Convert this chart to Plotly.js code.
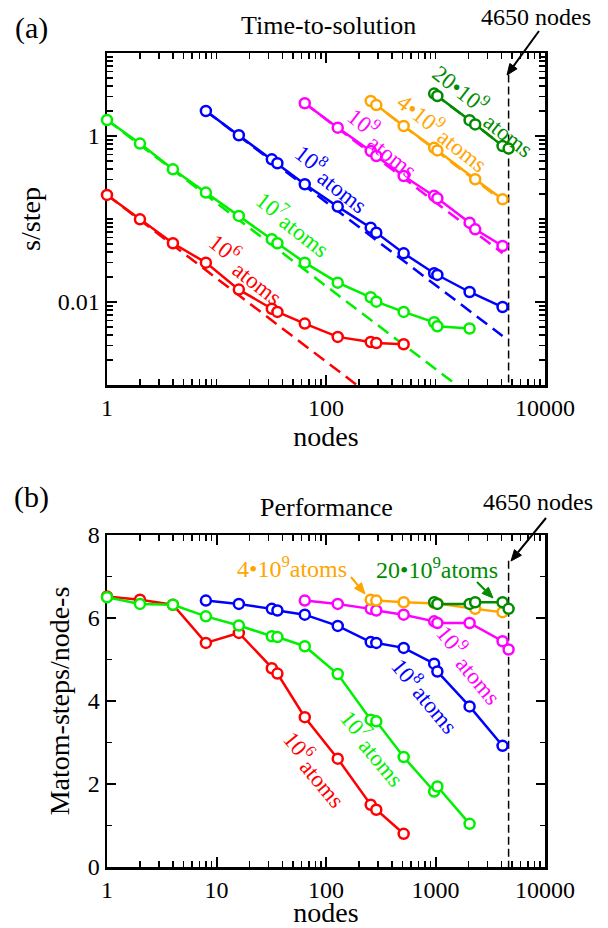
<!DOCTYPE html>
<html><head><meta charset="utf-8">
<script src="https://cdn.plot.ly/plotly-3.0.1.min.js"></script>
<style>html,body{margin:0;padding:0;background:#fff}#chart{width:608px;height:928px}</style>
</head><body><div id="chart"></div>
<script>
// ---------- data (nodes, values) ----------
const nodesRed     = [1,2,4,8,16,32,36,64,128,256,288,512];
const nodesGreen   = [1,2,4,8,16,32,36,64,128,256,288,512,972,1040,2048];
const nodesBlue    = [8,16,32,36,64,128,256,288,512,972,1040,2048,4096];
const nodesMagTop  = [64,128,256,288,512,972,1040,2048,2304,4096];
const nodesMagBot  = [64,128,256,288,512,972,1040,2048,4096,4650];
const nodesOrange  = [256,288,512,972,1040,2304,4096];
const nodesDkGreen = [972,1040,2048,2304,4096,4650];

// (a) time-to-solution, s/step
const tRed     = [0.195,0.099,0.051,0.0298,0.0141,0.0083,0.0076,0.0055,0.0038,0.0033,0.0032,0.0031];
const tGreen   = [1.56,0.81,0.397,0.208,0.109,0.057,0.051,0.0298,0.0171,0.0114,0.0101,0.0076,0.0057,0.0051,0.0048];
const tBlue    = [2.0,1.02,0.524,0.469,0.262,0.141,0.0787,0.0685,0.0386,0.0222,0.0212,0.0132,0.0087];
const tMagenta = [2.48,1.26,0.659,0.574,0.330,0.19,0.178,0.0904,0.0751,0.0473];
const tOrange  = [2.64,2.36,1.32,0.72,0.67,0.301,0.173];
const tDkGreen = [3.24,3.03,1.55,1.38,0.758,0.705];

// ideal-scaling reference lines (end points)
const idealRedX = [1,191],      idealRedY = [0.195,0.001];
const idealGreenX = [1,1560],   idealGreenY = [1.56,0.001];
const idealBlueX = [8,4096],    idealBlueY = [2.0,0.0039];
const idealMagX = [64,4096],    idealMagY = [2.48,0.0388];
const idealOrX = [256,4096],    idealOrY = [2.64,0.165];
const idealDgX = [972,4650],    idealDgY = [3.24,0.677];

// (b) performance, Matom-steps/node-s
const pRed     = [6.52,6.44,6.32,5.40,5.64,4.79,4.66,3.61,2.61,1.50,1.38,0.80];
const pGreen   = [6.50,6.34,6.32,6.04,5.82,5.56,5.54,5.32,4.65,3.55,3.51,2.65,1.82,1.94,1.04];
const pBlue    = [6.42,6.34,6.22,6.18,6.08,5.81,5.42,5.40,5.28,4.90,4.71,3.87,2.92];
const pMagenta = [6.42,6.34,6.22,6.18,6.08,5.92,5.88,5.88,5.44,5.24];
const pOrange  = [6.44,6.42,6.38,6.36,6.35,6.22,6.14];
const pDkGreen = [6.38,6.34,6.34,6.38,6.38,6.22];

// 4650-node marker line
const limitNodes = [4650,4650];
const limitTopY  = [5.5,0.001];
const limitBotY  = [7.38,0];

// tick labels
const xTopTickVals = [1,100,10000],  xTopTickText = ['1','100','10000'];
const yTopTickVals = [0.01,1],       yTopTickText = ['0.01','1'];
const xBotTickVals = [1,10,100,1000,10000], xBotTickText = ['1','10','100','1000','10000'];
const yBotTickVals = [0,2,4,6,8],    yBotTickText = ['0','2','4','6','8'];

// ---------- styling ----------
const COL = {red:'#ff0000', green:'#00f000', blue:'#0000ff', magenta:'#ff00ff', orange:'#ffa500', dkgreen:'#008b00'};
const FONT = 'Liberation Serif';

function minorLog(decades, skip){
  const v=[];
  decades.forEach(d=>{ for(let k=1;k<=9;k++){ const x=+(d*k).toPrecision(6); if(!skip.includes(x)) v.push(x);} });
  return v;
}
const xTopMinor = minorLog([1,10,100,1000],[1,100]);
const yTopMinor = minorLog([0.001,0.01,0.1,1],[0.001,0.01,1]).concat([10]);
const xBotMinor = minorLog([1,10,100,1000],[1,10,100,1000]);

function series(x,y,color,xa,ya){
  return {x:x,y:y,xaxis:xa,yaxis:ya,type:'scatter',mode:'lines+markers',cliponaxis:false,
    line:{color:color,width:2.5},
    marker:{symbol:'circle',size:10,color:'white',line:{color:color,width:2.5}},hoverinfo:'skip'};
}
function ideal(x,y,color){
  return {x:x,y:y,xaxis:'x2',yaxis:'y2',type:'scatter',mode:'lines',
    line:{color:color,width:2.5,dash:'13px,7px'},hoverinfo:'skip'};
}
function vline(x,y,xa,ya){
  return {x:x,y:y,xaxis:xa,yaxis:ya,type:'scatter',mode:'lines',
    line:{color:'black',width:1.5,dash:'8px,4px'},hoverinfo:'skip'};
}

const data = [
  ideal(idealRedX,idealRedY,COL.red),
  ideal(idealGreenX,idealGreenY,COL.green),
  ideal(idealBlueX,idealBlueY,COL.blue),
  ideal(idealMagX,idealMagY,COL.magenta),
  ideal(idealOrX,idealOrY,COL.orange),
  ideal(idealDgX,idealDgY,COL.dkgreen),
  vline(limitNodes,limitTopY,'x2','y2'),
  vline(limitNodes,limitBotY,'x','y'),
  series(nodesRed,tRed,COL.red,'x2','y2'),
  series(nodesGreen,tGreen,COL.green,'x2','y2'),
  series(nodesBlue,tBlue,COL.blue,'x2','y2'),
  series(nodesMagTop,tMagenta,COL.magenta,'x2','y2'),
  series(nodesOrange,tOrange,COL.orange,'x2','y2'),
  series(nodesDkGreen,tDkGreen,COL.dkgreen,'x2','y2'),
  series(nodesRed,pRed,COL.red,'x','y'),
  series(nodesGreen,pGreen,COL.green,'x','y'),
  series(nodesBlue,pBlue,COL.blue,'x','y'),
  series(nodesMagBot,pMagenta,COL.magenta,'x','y'),
  series(nodesOrange,pOrange,COL.orange,'x','y'),
  series(nodesDkGreen,pDkGreen,COL.dkgreen,'x','y')
];

function axis(extra){
  return Object.assign({showline:true,linecolor:'black',linewidth:2.5,mirror:'ticks',
    ticks:'inside',ticklen:10,tickwidth:2,tickcolor:'black',showgrid:false,zeroline:false,
    layer:'below traces',tickfont:{size:24,color:'black',family:FONT},tickmode:'array'},extra);
}
function minor(vals,len){
  return {ticks:'inside',ticklen:len,tickwidth:1.5,tickcolor:'black',showgrid:false,tickmode:'array',tickvals:vals};
}

// pixel -> paper helpers (plot area 107..545 x 53..867)
const X = px => (px-107)/438;
const Y = py => (867-py)/814;

function txt(s,px,py,size,color,angle){
  return {text:s,x:X(px),y:Y(py),xref:'paper',yref:'paper',showarrow:false,
    xanchor:'center',yanchor:'middle',textangle:angle||0,
    font:{family:FONT,size:size,color:color||'black'}};
}
// arrow drawn as shapes: a line plus a filled head
function arrowShapes(x0,y0,x1,y1,color){
  const dx=x1-x0, dy=y1-y0, L=Math.hypot(dx,dy), ux=dx/L, uy=dy/L;
  const hl=11, hw=4.5;
  const bx=x1-ux*hl, by=y1-uy*hl;
  const p1=[bx-uy*hw, by+ux*hw], p2=[bx+uy*hw, by-ux*hw];
  return [
    {type:'line',xref:'paper',yref:'paper',x0:X(x0),y0:Y(y0),x1:X(bx),y1:Y(by),line:{color:color,width:2}},
    {type:'path',xref:'paper',yref:'paper',fillcolor:color,line:{color:color,width:1},
     path:`M ${X(x1)} ${Y(y1)} L ${X(p1[0])} ${Y(p1[1])} L ${X(p2[0])} ${Y(p2[1])} Z`}
  ];
}

const A1=38, A2=50;
const annotations = [
  txt('(a)',31,28,30),
  txt('Time-to-solution',328,25,26),
  txt('4650 nodes',536,17,24),
  txt('(b)',31,497,30),
  txt('Performance',326,507,26),
  txt('4650 nodes',538,502,24),
  // (a) series labels
  txt('10<sup>6</sup>',225,247,23,COL.red,A1),
  txt('atoms',257,283,23,COL.red,A1),
  txt('10<sup>7</sup>',272,205,23,COL.green,A1),
  txt('atoms',304,235,23,COL.green,A1),
  txt('10<sup>8</sup>',311,158,23,COL.blue,A1),
  txt('atoms',342,191,23,COL.blue,A1),
  txt('10<sup>9</sup>',363,122,23,COL.magenta,A1),
  txt('atoms',392,156,23,COL.magenta,A1),
  txt('4•10<sup>9</sup>',421,113,23,COL.orange,A1),
  txt('atoms',462,150,23,COL.orange,A1),
  txt('20•10<sup>9</sup>',461,88,23,COL.dkgreen,A1),
  txt('atoms',508,135,23,COL.dkgreen,A1),
  // (b) series labels
  txt('10<sup>6</sup>',299,745,23,COL.red,A2),
  txt('atoms',322,783,23,COL.red,A2),
  txt('10<sup>7</sup>',356,724,23,COL.green,A2),
  txt('atoms',381,762,23,COL.green,A2),
  txt('10<sup>8</sup>',407,672,23,COL.blue,A2),
  txt('atoms',435,709,23,COL.blue,A2),
  txt('10<sup>9</sup>',452,639,23,COL.magenta,A2),
  txt('atoms',478,680,23,COL.magenta,A2),
  txt('4•10<sup>9</sup>atoms',292,567,24,COL.orange),
  txt('20•10<sup>9</sup>atoms',437,568,24,COL.dkgreen)
];

const shapes = [].concat(
  arrowShapes(539,31,507,75,'black'),
  arrowShapes(546,518,511,561,'black'),
  arrowShapes(351,577,365,594,COL.orange),
  arrowShapes(477,582,493,598,COL.dkgreen)
);

const layout = {
  width:608,height:928,
  margin:{l:107,r:63,t:53,b:61},
  paper_bgcolor:'white',plot_bgcolor:'white',
  showlegend:false,
  font:{family:FONT,color:'black'},
  xaxis2: axis({type:'log',range:[0,4],anchor:'y2',domain:[0,1],
    tickvals:xTopTickVals,ticktext:xTopTickText,minor:minor(xTopMinor,6),
    title:{text:'nodes',font:{size:28,family:FONT},standoff:0}}),
  yaxis2: axis({type:'log',range:[-3,1],anchor:'x2',domain:[(867-385)/814,1],
    tickvals:yTopTickVals,ticktext:yTopTickText,minor:minor(yTopMinor,6),
    title:{text:'s/step',font:{size:28,family:FONT},standoff:9}}),
  xaxis: axis({type:'log',range:[0,4],anchor:'y',domain:[0,1],
    tickvals:xBotTickVals,ticktext:xBotTickText,minor:minor(xBotMinor,6),
    title:{text:'nodes',font:{size:28,family:FONT},standoff:4}}),
  yaxis: axis({range:[0,8],anchor:'x',domain:[0,(867-535)/814],ticklen:9,
    tickvals:yBotTickVals,ticktext:yBotTickText,minor:{ticks:'inside',ticklen:5,tickwidth:1.5,tickcolor:'black',showgrid:false,dtick:1},
    title:{text:'Matom-steps/node-s',font:{size:28,family:FONT},standoff:10}}),
  annotations:annotations,
  shapes:shapes
};

Plotly.newPlot('chart',data,layout,{staticPlot:true,displayModeBar:false});
</script></body></html>
